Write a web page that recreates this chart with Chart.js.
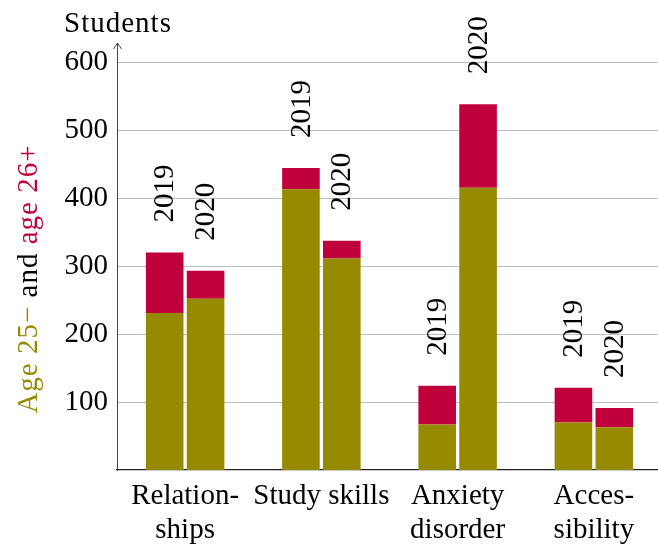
<!DOCTYPE html>
<html>
<head>
<meta charset="utf-8">
<script src="https://cdn.jsdelivr.net/npm/chart.js@4/dist/chart.umd.min.js"></script>
<style>
  html, body { margin: 0; padding: 0; background: #fff; overflow: hidden; }
  #wrap { width: 662px; height: 545px; }
</style>
</head>
<body>
<div id="wrap"><canvas id="chart" width="662" height="545"></canvas></div>
<script>
const categories = [['Relation-', 'ships'], 'Study skills', ['Anxiety', 'disorder'], ['Acces-', 'sibility']]
const years = ['2019', '2020']
const young2019 = [231, 413, 67, 70]
const old2019 = [89, 31, 57, 51]
const young2020 = [252, 311, 415, 63]
const old2020 = [41, 26, 123, 28]
const yTicks = [100, 200, 300, 400, 500, 600]

const olive = '#968b00'
const crimson = '#c0003c'
const font = "'Liberation Serif', 'DejaVu Serif', serif"
const fontSize = 29

// year labels above each stacked bar, the axis arrow, and the two axis titles
const decorations = {
  id: 'decorations',
  afterDatasetsDraw(chart) {
    const { ctx, chartArea, scales } = chart
    ctx.save()
    ctx.fillStyle = '#000'
    ctx.font = `${fontSize}px ${font}`
    // year labels, above the top (26+) dataset of each stack
    ;[1, 3].forEach((di, yi) => {
      chart.getDatasetMeta(di).data.forEach(bar => {
        ctx.save()
        ctx.translate(bar.x, bar.y - 30)
        ctx.rotate(-Math.PI / 2)
        ctx.textAlign = 'left'
        ctx.textBaseline = 'middle'
        ctx.fillText(years[yi], 0, 1)
        ctx.restore()
      })
    })

    // y axis arrow
    const x0 = scales.y.right
    ctx.strokeStyle = '#444'
    ctx.lineWidth = 1
    ctx.beginPath()
    ctx.moveTo(x0 + 0.5, chartArea.top)
    ctx.lineTo(x0 + 0.5, 43)
    ctx.moveTo(x0 - 3.5, 49)
    ctx.lineTo(x0 + 0.5, 43)
    ctx.lineTo(x0 + 4.5, 49)
    ctx.stroke()

    // "Students" above the axis
    ctx.textAlign = 'center'
    ctx.textBaseline = 'alphabetic'
    ctx.letterSpacing = '1px'
    ctx.fillText('Students', x0 + 1, 32)

    // coloured y title
    const parts = [['Age 25\u2212', olive], [' and ', '#000'], ['age 26+', crimson]]
    const total = parts.reduce((a, p) => a + ctx.measureText(p[0]).width, 0)
    ctx.save()
    ctx.translate(29, 279)
    ctx.rotate(-Math.PI / 2)
    ctx.textAlign = 'left'
    ctx.textBaseline = 'middle'
    let cx = -total / 2
    for (const [txt, col] of parts) {
      ctx.fillStyle = col
      ctx.fillText(txt, cx, 0)
      cx += ctx.measureText(txt).width
    }
    ctx.restore()
    ctx.restore()
  },
}

const barOpts = { categoryPercentage: 0.6, barPercentage: 0.92, borderWidth: 0 }

new Chart(document.getElementById('chart'), {
  type: 'bar',
  data: {
    labels: categories,
    datasets: [
      { label: 'Age 25\u2212 2019', data: young2019, stack: '2019', backgroundColor: olive, ...barOpts },
      { label: 'Age 26+ 2019', data: old2019, stack: '2019', backgroundColor: crimson, ...barOpts },
      { label: 'Age 25\u2212 2020', data: young2020, stack: '2020', backgroundColor: olive, ...barOpts },
      { label: 'Age 26+ 2020', data: old2020, stack: '2020', backgroundColor: crimson, ...barOpts },
    ],
  },
  options: {
    responsive: false,
    animation: false,
    layout: { padding: { top: 62, left: 0, right: 0, bottom: 0 } },
    plugins: { legend: { display: false }, tooltip: { enabled: false } },
    scales: {
      x: {
        stacked: true,
        grid: { display: false },
        border: { color: '#222', width: 1.2 },
        ticks: { color: '#000', padding: 2, maxRotation: 0, autoSkip: false, font: { family: font, size: fontSize, lineHeight: 1.15 } },
        afterFit(s) { s.height = 75 },
      },
      y: {
        stacked: true,
        min: 0,
        max: 600,
        afterBuildTicks(s) { s.ticks = yTicks.map(v => ({ value: v })) },
        grid: { color: '#bdbdbd', lineWidth: 1, drawTicks: false },
        border: { color: '#444', width: 1 },
        ticks: { color: '#000', padding: 9, font: { family: font, size: fontSize } },
        afterFit(s) { s.width = 117 },
      },
    },
  },
  plugins: [decorations],
})
</script>
</body>
</html>
